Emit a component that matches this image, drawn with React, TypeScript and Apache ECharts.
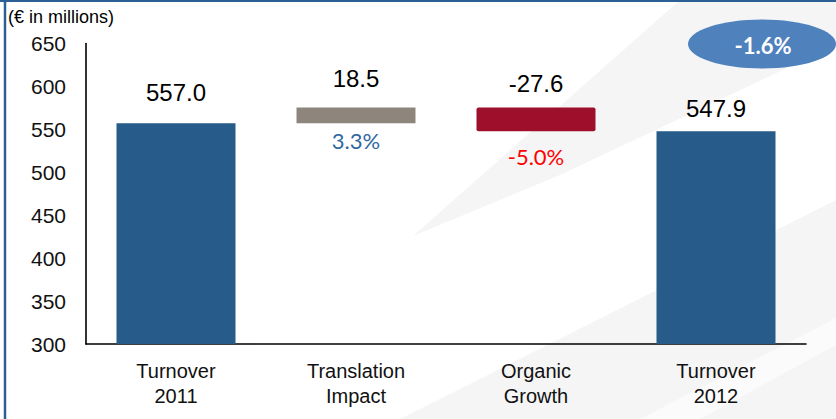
import React, { useEffect, useRef } from "react";
import * as echarts from "echarts";

const categories = ["Turnover\n2011", "Translation\nImpact", "Organic\nGrowth", "Turnover\n2012"];
const values = [557.0, 18.5, -27.6, 547.9];
const kinds = ["total", "delta", "delta", "total"];
const percentLabels = ["", "3.3%", "-5.0%", ""];
const totalChangeLabel = "-1.6%";
const unitLabel = "(€ in millions)";
const yMin = 300;
const yMax = 650;
const yStep = 50;

const barColors = ["#275b89", "#8e857c", "#9e0f2c", "#275b89"];
const pctColors = ["#000", "#2f689f", "#ff0000", "#000"];
const valueLabelDistance = [19, 17, 12, 11];
const pctLabelDistance = [0, 6, 14, 0];

export default function App() {
  const ref = useRef<HTMLDivElement>(null);
  useEffect(() => {
    if (!ref.current) return;
    const chart = echarts.init(ref.current, null, { renderer: "svg" });

    let running = 0;
    const bases: number[] = [];
    const heights: number[] = [];
    values.forEach((v, i) => {
      if (kinds[i] === "total") {
        bases.push(0);
        heights.push(v);
        running = v;
      } else {
        if (v >= 0) {
          bases.push(running);
          heights.push(v);
        } else {
          bases.push(running + v);
          heights.push(-v);
        }
        running += v;
      }
    });

    const baseData = bases.map((b, i) => ({
      value: b,
      label:
        kinds[i] === "delta"
          ? {
              show: true,
              position: "insideTop",
              distance: pctLabelDistance[i],
              formatter: percentLabels[i],
              color: pctColors[i],
              fontSize: 22,
              fontFamily: "Lato",
            }
          : { show: false },
    }));

    const valueData = heights.map((h, i) => ({
      value: h,
      itemStyle: { color: barColors[i], borderRadius: i === 2 ? 2 : 0 },
      label: {
        show: true,
        position: "top",
        distance: valueLabelDistance[i],
        formatter: values[i].toFixed(1),
        color: "#000",
        fontSize: 24,
        fontFamily: "Liberation Sans",
      },
    }));

    chart.setOption({
      animation: false,
      backgroundColor: "#ffffff",
      grid: { left: 86, right: 30, top: 43.5, bottom: 75 },
      xAxis: {
        type: "category",
        data: categories,
        axisLine: { lineStyle: { color: "#000", width: 1.6 } },
        axisTick: { show: false },
        axisLabel: {
          fontSize: 20,
          fontFamily: "Liberation Sans",
          color: "#111",
          lineHeight: 25,
          margin: 14,
        },
      },
      yAxis: {
        type: "value",
        min: yMin,
        max: yMax,
        interval: yStep,
        axisLine: { show: true, lineStyle: { color: "#000", width: 1.6 } },
        axisTick: { show: false },
        splitLine: { show: false },
        axisLabel: {
          fontSize: 21,
          fontFamily: "Liberation Sans",
          color: "#111",
          margin: 20,
        },
      },
      graphic: [
        {
          type: "polygon",
          z: -10,
          shape: { points: [[413, 236], [680, 0], [836, 0], [836, 45], [560, 175]] },
          style: { fill: "#f5f5f5" },
          silent: true,
        },
        {
          type: "polygon",
          z: -10,
          shape: { points: [[400, 419], [836, 200], [836, 419]] },
          style: { fill: "#f5f5f5" },
          silent: true,
        },
        {
          type: "polygon",
          z: -9,
          shape: { points: [[640, 419], [836, 318], [836, 345], [700, 419]] },
          style: { fill: "#fbfbfb" },
          silent: true,
        },
        {
          type: "line",
          shape: { x1: 5, y1: 0, x2: 5, y2: 419 },
          style: { stroke: "#2c5f95", lineWidth: 2.5 },
          silent: true,
        },
        {
          type: "line",
          shape: { x1: 0, y1: 1, x2: 836, y2: 1 },
          style: { stroke: "#2c5f95", lineWidth: 2 },
          silent: true,
        },
        {
          type: "text",
          x: 8,
          y: 17,
          style: {
            text: unitLabel,
            fontSize: 18,
            fontFamily: "Liberation Sans",
            fill: "#000",
            textVerticalAlign: "middle",
          },
        },
        {
          type: "ellipse",
          shape: { cx: 762, cy: 44, rx: 74, ry: 24.5 },
          style: { fill: "#4f81bd" },
          silent: true,
        },
        {
          type: "text",
          x: 763,
          y: 45,
          style: {
            text: totalChangeLabel,
            fontSize: 22,
            fontWeight: "bold",
            fontFamily: "Lato",
            fill: "#ffffff",
            textAlign: "center",
            textVerticalAlign: "middle",
          },
        },
      ],
      series: [
        {
          type: "bar",
          stack: "waterfall",
          barWidth: 119,
          itemStyle: { color: "transparent" },
          emphasis: { disabled: true },
          data: baseData,
        },
        {
          type: "bar",
          stack: "waterfall",
          barWidth: 119,
          data: valueData,
        },
      ],
    });
    return () => chart.dispose();
  }, []);
  return (
    <div
      ref={ref}
      style={{ position: "absolute", left: 0, top: 0, width: 836, height: 419 }}
    />
  );
}
